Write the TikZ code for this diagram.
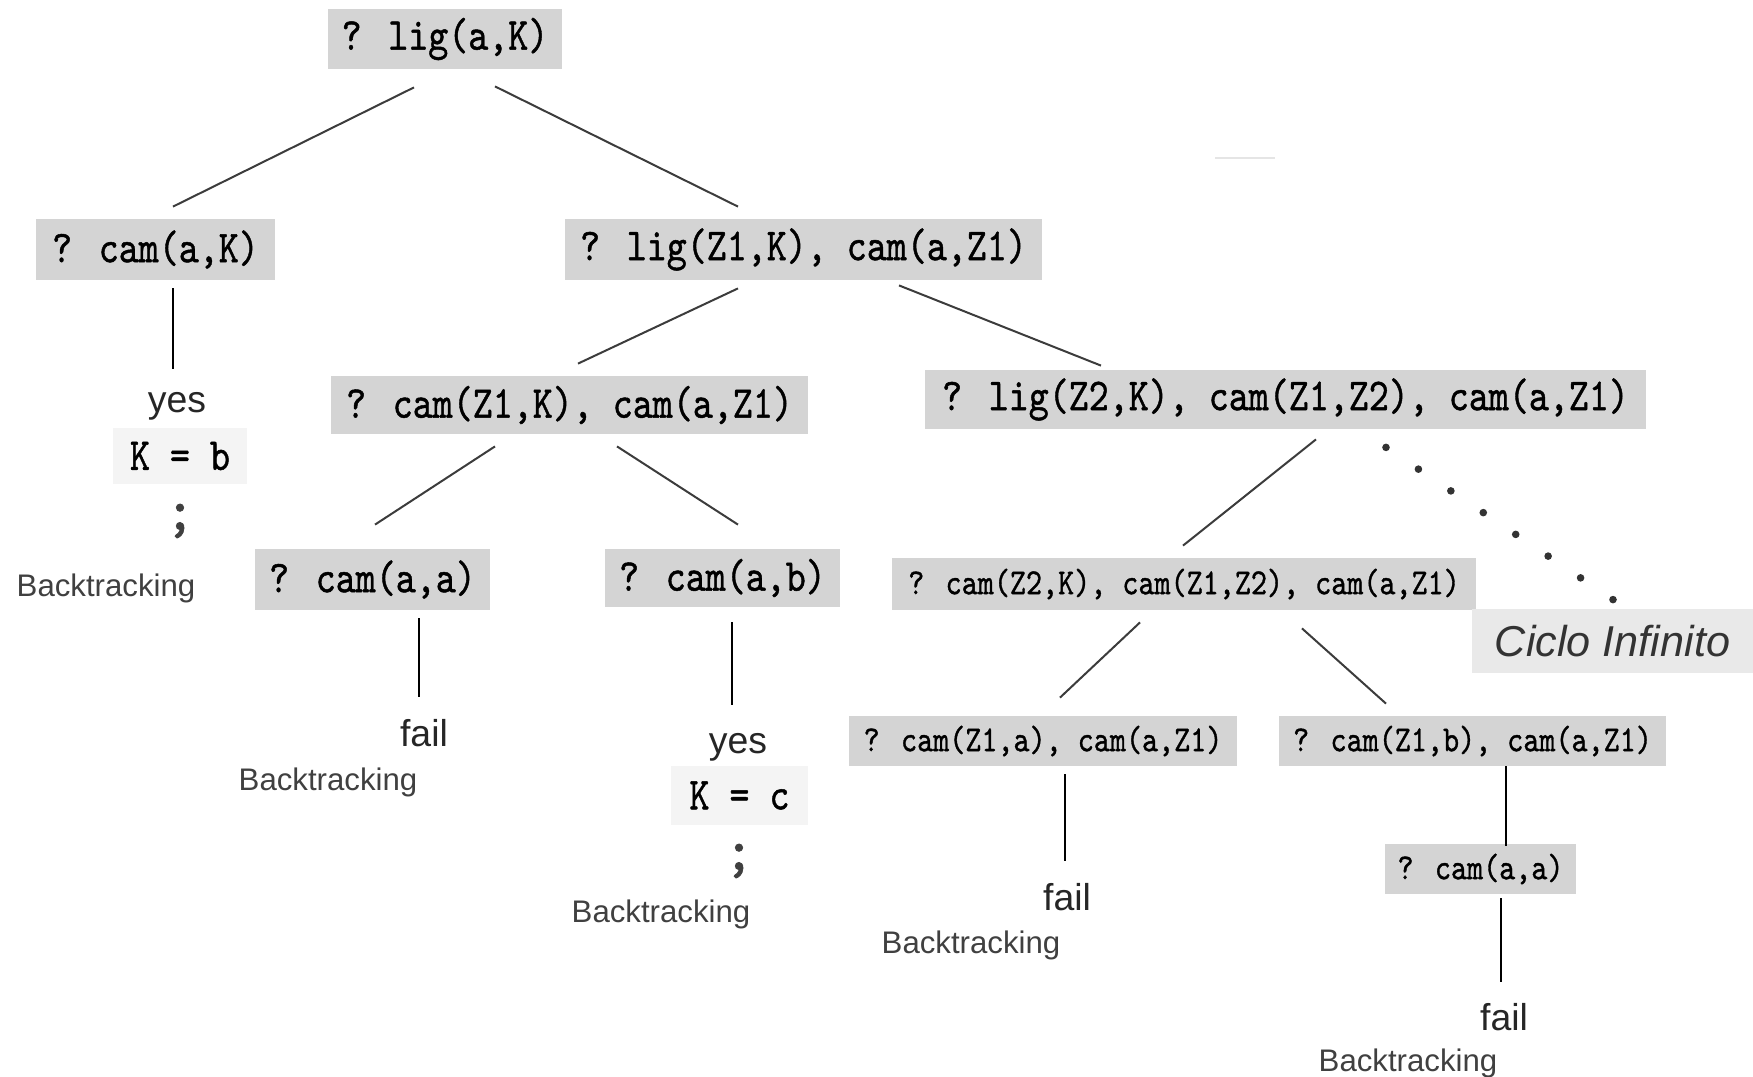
\documentclass[tikz,border=0pt]{standalone}
\usepackage{graphicx}
\usepackage{fontspec}
\setmainfont{Liberation Sans}
\newfontfamily\goalfont[FakeBold=1.1]{lmmono10-regular.otf}
\usetikzlibrary{calc}

\definecolor{boxgray}{RGB}{212,212,212}
\definecolor{bindgray}{RGB}{244,244,244}
\definecolor{loopgray}{RGB}{233,233,233}
\definecolor{edgegray}{RGB}{60,60,60}
\definecolor{notegray}{RGB}{64,64,64}

% goal text: monospaced, slightly stretched vertically
\newcommand{\goal}[1]{\scalebox{1}[1.2]{#1}}

\tikzset{
  wh/.style 2 args={minimum width=#1*0.5pt, minimum height=#2*0.5pt},
  goalbox/.style={fill=boxgray, inner sep=0pt, text=black,
    font=\goalfont\fontsize{19.05}{22}\selectfont},
  smallgoal/.style={goalbox, font=\goalfont\fontsize{15.3}{18}\selectfont},
  bindbox/.style={goalbox, fill=bindgray},
  verdict/.style={inner sep=0pt, text=black!85, font=\fontsize{18.7}{22}\selectfont},
  backnote/.style={inner sep=0pt, text=notegray, font=\fontsize{15.6}{18}\selectfont},
  semi/.style={inner sep=0pt, text=black!75, font=\goalfont\fontsize{30}{30}\selectfont},
  branch/.style={draw=edgegray, line width=1pt},
  stem/.style={draw=black, line width=1.4pt},
}

\begin{document}
\begin{tikzpicture}[x=0.5pt, y=-0.5pt]
\useasboundingbox (0,0) rectangle (1753,1077);

% ---- goal nodes ----
\node[goalbox, wh={234}{60}] (root)   at (445,39)     {\goal{? lig(a,K)}};
\node[goalbox, wh={239}{61}] (camaK)  at (155.5,249.5){\goal{? cam(a,K)}};
\node[goalbox, wh={477}{61}] (ligZ1)  at (803.5,249.5){\goal{? lig(Z1,K), cam(a,Z1)}};
\node[goalbox, wh={477}{58}] (camZ1K) at (569.5,405)  {\goal{? cam(Z1,K), cam(a,Z1)}};
\node[goalbox, wh={721}{59}] (ligZ2)  at (1285.5,399.5){\goal{? lig(Z2,K), cam(Z1,Z2), cam(a,Z1)}};
\node[goalbox, wh={235}{61}] (camaa)  at (372.5,579.5){\goal{? cam(a,a)}};
\node[goalbox, wh={235}{58}] (camab)  at (722.5,578)  {\goal{? cam(a,b)}};
\node[smallgoal, wh={584}{52}] (camZ2K) at (1184,584) {\goal{? cam(Z2,K), cam(Z1,Z2), cam(a,Z1)}};
\node[smallgoal, wh={388}{50}] (camZ1a) at (1043,741) {\goal{? cam(Z1,a), cam(a,Z1)}};
\node[smallgoal, wh={387}{50}] (camZ1b) at (1472.5,741){\goal{? cam(Z1,b), cam(a,Z1)}};
\node[smallgoal, wh={191}{50}] (camaa2) at (1480.5,869){\goal{? cam(a,a)}};

% ---- infinite loop marker ----
\node[fill=loopgray, inner sep=0pt, wh={281}{64},
      font=\itshape\fontsize{21.6}{24}\selectfont, text=black!80] (ciclo) at (1612.5,641) {Ciclo Infinito};

% ---- answers and notes ----
\node[verdict] (yes1) at (177,406) {yes};
\node[bindbox, wh={134}{56}] (Kb) at (180,456) {\goal{K = b}};
\node[semi] (semi1) at (180,521) {;};
\node[backnote] (back1) at (106,588) {Backtracking};

\node[verdict] (fail1) at (424,733) {fail};
\node[backnote] (back2) at (328,782) {Backtracking};

\node[verdict] (yes2) at (738,747) {yes};
\node[bindbox, wh={137}{59}] (Kc) at (739.5,795.5) {\goal{K = c}};
\node[semi] (semi2) at (739,861) {;};
\node[backnote] (back3) at (661,914) {Backtracking};

\node[verdict] (fail3) at (1067,897) {fail};
\node[backnote] (back4) at (971,945) {Backtracking};

\node[verdict] (fail4) at (1504,1017) {fail};
\node[backnote] (back5) at (1408,1063) {Backtracking};

% ---- branches ----
\draw[branch] ($(root.south)+(-31,18)$) -- ($(camaK.north)+(17.5,-12)$);
\draw[branch] ($(root.south)+(50,17)$) -- ($(ligZ1.north)+(-65.5,-12)$);
\draw[branch] ($(ligZ1.south)+(-65.5,8)$) -- ($(camZ1K.north)+(8.5,-12)$);
\draw[branch] ($(ligZ1.south)+(95.5,5)$) -- ($(ligZ2.north)+(-184.5,-4)$);
\draw[branch] ($(camZ1K.south)+(-74.5,12)$) -- ($(camaa.north)+(2.5,-24)$);
\draw[branch] ($(camZ1K.south)+(47.5,12)$) -- ($(camab.north)+(15.5,-24)$);
\draw[branch] ($(ligZ2.south)+(30.5,10)$) -- ($(camZ2K.north)+(-1,-12)$);
\draw[branch] ($(camZ2K.south)+(-44,12)$) -- ($(camZ1a.north)+(17,-18)$);
\draw[branch] ($(camZ2K.south)+(118,18)$) -- ($(camZ1b.north)+(-86.5,-12)$);

% dotted path to the infinite loop
\foreach \i in {0,...,7}
  \fill[black!80] ($($(ligZ2.south)+(100.5,18)$)!\i/7!($(ciclo.north)+(0.5,-9)$)$) circle[radius=1.9pt];

% ---- vertical stems ----
\draw[stem] ($(camaK.south)+(17.5,8)$) -- ($(yes1.north)+(-4,-23)$);
\draw[stem] ($(camaa.south)+(46.5,8)$) -- ($(fail1.north)+(-5,-22)$);
\draw[stem] ($(camab.south)+(9.5,15)$) -- ($(yes2.north)+(-6,-28)$);
\draw[stem] ($(camZ1a.south)+(22,8)$) -- ($(fail3.north)+(-2,-22)$);
\draw[stem] ($(camZ1b.south)+(33.5,0)$) -- ($(camaa2.north)+(25.5,2)$);
\draw[stem] ($(camaa2.south)+(20.5,4)$) -- ($(fail4.north)+(-3,-21)$);

% faint stray stroke near the top
\draw[black!10, line width=0.6pt] (1215,158) -- (1275,158);
\end{tikzpicture}
\end{document}
